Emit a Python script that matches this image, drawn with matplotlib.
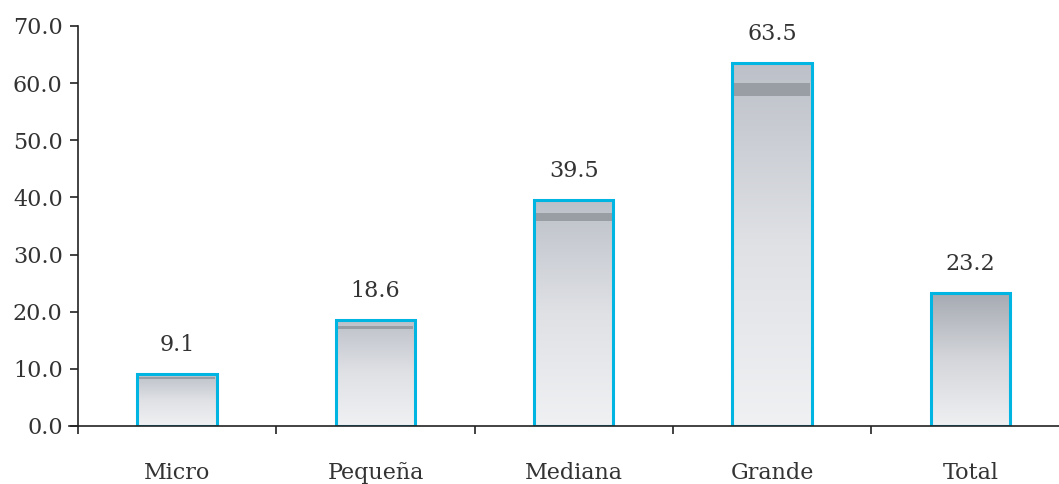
import numpy as np
import matplotlib
matplotlib.use("Agg")
import matplotlib.pyplot as plt
from matplotlib.colors import LinearSegmentedColormap

categories = ["Micro", "Pequeña", "Mediana", "Grande", "Total"]
values = [9.1, 18.6, 39.5, 63.5, 23.2]
has_band = [True, True, True, True, False]

plt.rcParams["font.family"] = ["DejaVu Serif", "Liberation Serif"]
text_color = "#333333"

fig = plt.figure(figsize=(10.59, 4.84), dpi=100)
# the plot runs a little past the right edge of the figure
ax = fig.add_axes([69 / 1059, 58 / 484, 1000.7 / 1059, 400 / 484])

x = np.arange(len(categories))
bar_w = 0.4

bars = ax.bar(x, values, width=bar_w, color="none", edgecolor="#00b5e2",
              linewidth=2.2, zorder=4)

# vertical gradient inside each bar
grad = np.linspace(0, 1, 256).reshape(-1, 1)
cm_bar = LinearSegmentedColormap.from_list("bar", ["#f0f1f3", "#dfe1e5", "#bcc0c8"])
cm_total = LinearSegmentedColormap.from_list("tot", ["#eff0f2", "#d4d6db", "#a6aab2"])
for i, (b, v) in enumerate(zip(bars, values)):
    cm = cm_bar if has_band[i] else cm_total
    im = ax.imshow(grad, extent=[b.get_x(), b.get_x() + bar_w, 0, v],
                   origin="lower", aspect="auto", cmap=cm, zorder=2)
    im.set_clip_path(b)
    if has_band[i]:
        ax.bar(x[i], v * 0.035, bottom=v * 0.91, width=bar_w - 0.02,
               color="#999da4", linewidth=0, zorder=3)
    ax.annotate(f"{v:.1f}", (x[i], v), xytext=(0, 13), textcoords="offset points",
                ha="center", va="bottom", fontsize=16, color=text_color)

ax.set_xlim(-0.545, 4.5)
ax.set_ylim(0, 70)
ax.set_yticks(np.arange(0, 71, 10))
ax.yaxis.set_major_formatter(matplotlib.ticker.FormatStrFormatter("%.1f"))

ax.set_xticks(x)
ax.set_xticklabels(categories)
ax.set_xticks(np.arange(-0.5, 4.6, 1), minor=True)
ax.tick_params(axis="x", which="major", length=0, pad=26)
ax.tick_params(axis="x", which="minor", length=6, width=1.2, color="#222222")
ax.tick_params(axis="y", length=6, width=1.2, color="#222222", pad=5)
ax.tick_params(labelsize=16, labelcolor=text_color)

for s in ["top", "right"]:
    ax.spines[s].set_visible(False)
ax.spines["left"].set_position(("data", -0.5))
ax.spines["left"].set_linewidth(1.2)
ax.spines["bottom"].set_linewidth(1.2)
ax.spines["left"].set_color("#222222")
ax.spines["bottom"].set_color("#222222")
ax.spines["bottom"].set_zorder(5)

fig.savefig("out.png", dpi=100)
